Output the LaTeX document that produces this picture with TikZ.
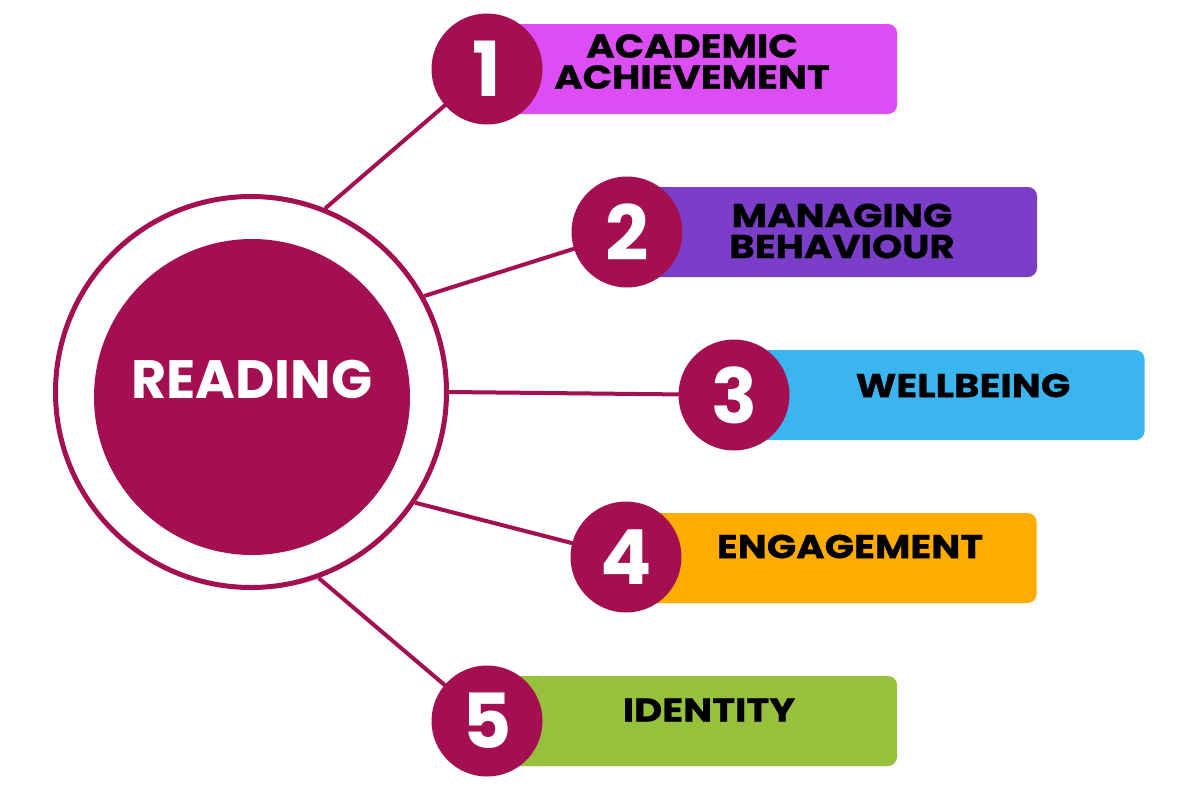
\documentclass[tikz,border=0pt]{standalone}
\usepackage{fontspec}
\newfontfamily\pop{Poppins}
\newfontfamily\lbl{Poppins}[FakeStretch=1.17,FakeBold=0.8]
\definecolor{maroon}{RGB}{164,15,82}
\definecolor{colA}{RGB}{220,78,244}
\definecolor{colB}{RGB}{122,62,200}
\definecolor{colC}{RGB}{59,181,239}
\definecolor{colD}{RGB}{255,172,0}
\definecolor{colE}{RGB}{151,193,60}
\begin{document}
\begin{tikzpicture}[x=1pt,y=-1pt,
  conn/.style={draw=maroon,line width=4pt},
  itembox/.style={rectangle,rounded corners=9pt,minimum width=410pt,minimum height=90pt,inner sep=0pt},
  badge/.style={circle,fill=maroon,minimum size=111pt,inner sep=0pt,text=white,
    font=\pop\bfseries\fontsize{76}{76}\selectfont},
  itemtext/.style={inner sep=0pt,align=center,text=black,
    font=\lbl\bfseries\fontsize{33}{31}\selectfont}]
\useasboundingbox (0,0) rectangle (1200,801);
\fill[white] (0,0) rectangle (1200,801);
% centre
\node[circle,draw=maroon,line width=5pt,minimum size=391pt,inner sep=0pt] (ring) at (251,392) {};
\node[circle,fill=maroon,minimum size=316pt,inner sep=0pt] (core) at (252,397) {};
\node[inner sep=0pt,text=white,font=\pop\bfseries\fontsize{54}{54}\selectfont] (title) at (252,379) {READING};
% badge positions
\coordinate (c1) at (487,69);
\coordinate (c2) at (627,232);
\coordinate (c3) at (734,395);
\coordinate (c4) at (626,557);
\coordinate (c5) at (487,721);
% connectors
\draw[conn] (ring.68) -- (c1);
\draw[conn] (ring.29.6) -- (c2);
\draw[conn] (ring.0) -- (c3);
\draw[conn] (ring.-34) -- (c4);
\draw[conn] (ring.-70.5) -- (c5);
% boxes
\node[itembox,fill=colA] (r1) at (692,69) {};
\node[itembox,fill=colB] (r2) at (832,232) {};
\node[itembox,fill=colC] (r3) at (939.5,395) {};
\node[itembox,fill=colD] (r4) at (831.5,558) {};
\node[itembox,fill=colE] (r5) at (692,721) {};
% badges
\node[badge] (b1) at (c1) {1};
\node[badge] (b2) at (c2) {2};
\node[badge] (b3) at (c3) {3};
\node[badge] (b4) at (c4) {4};
\node[badge] (b5) at (c5) {5};
% labels
\node[itemtext] (t1) at (692,61.5) {ACADEMIC\\ACHIEVEMENT};
\node[itemtext] (t2) at (842,231) {MANAGING\\BEHAVIOUR};
\node[itemtext] (t3) at (963,385.5) {WELLBEING};
\node[itemtext] (t4) at (850,546.5) {ENGAGEMENT};
\node[itemtext] (t5) at (709,710) {IDENTITY};
\end{tikzpicture}
\end{document}
